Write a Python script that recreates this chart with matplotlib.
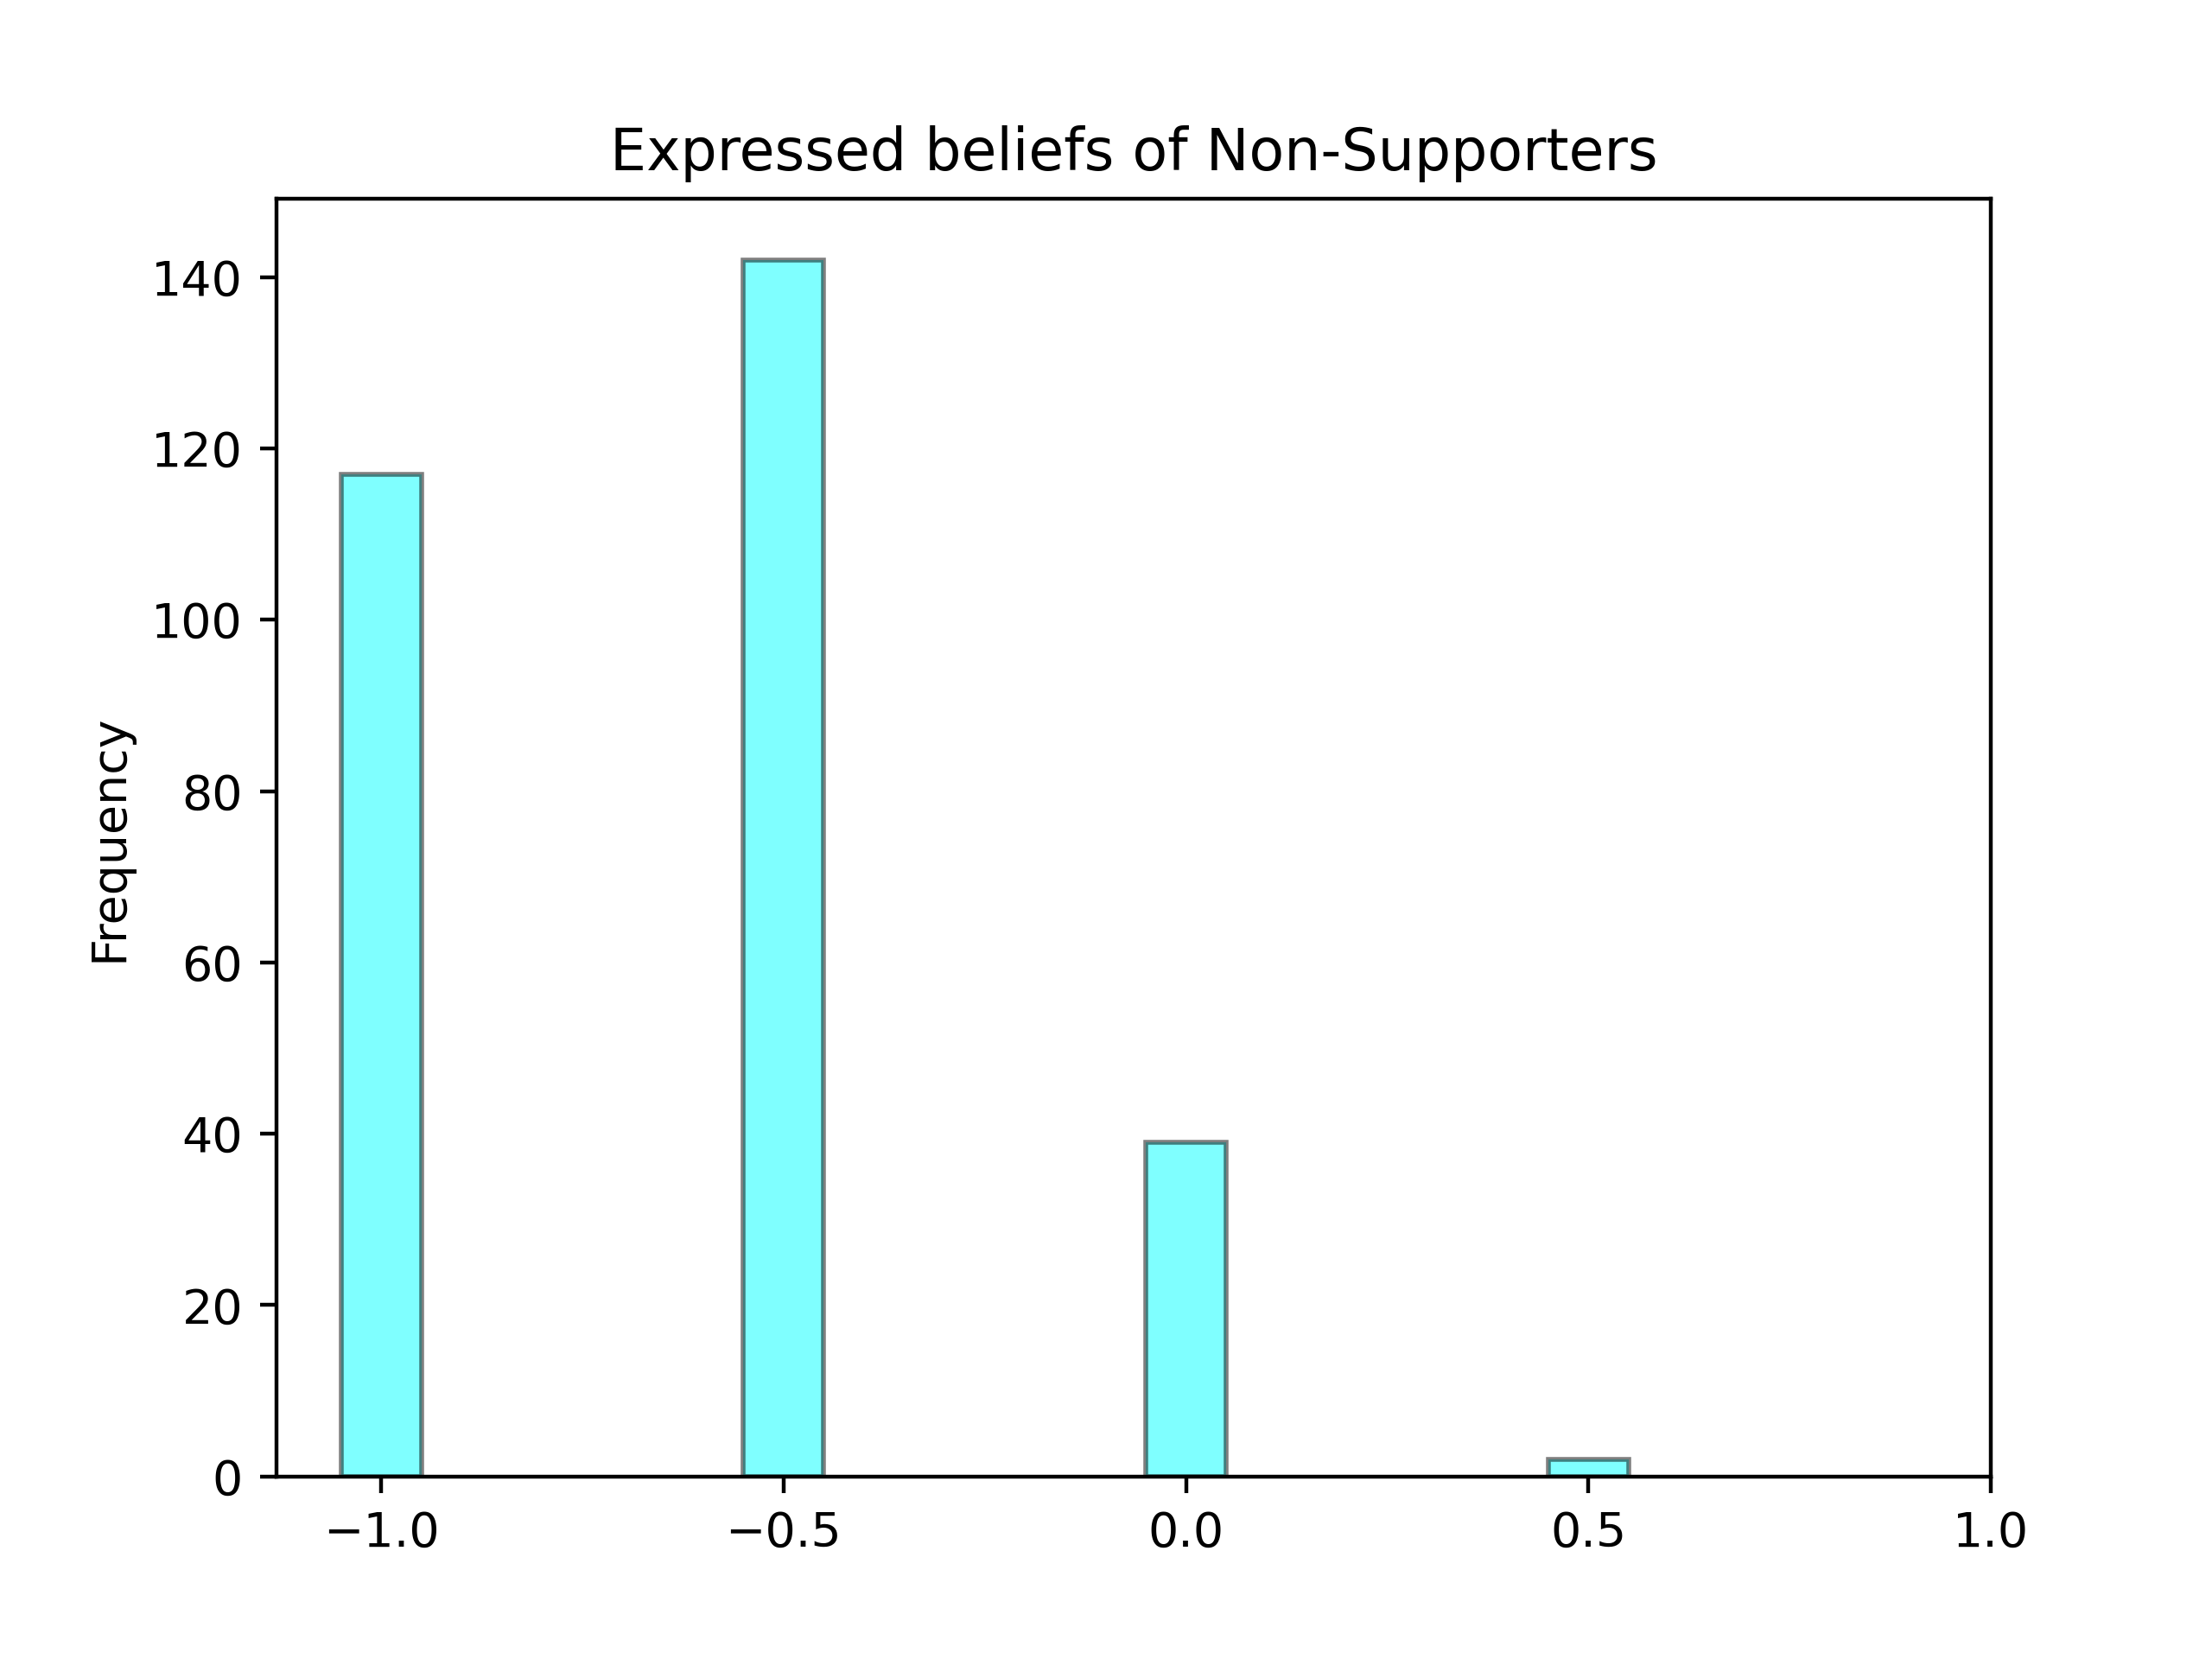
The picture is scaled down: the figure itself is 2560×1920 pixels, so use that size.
import numpy as np
import matplotlib
matplotlib.use('Agg')
import matplotlib.pyplot as plt

# Histogram bins (centres) and counts
bin_centres = [-1.0, -0.5, 0.0, 0.5]
counts = [117, 142, 39, 2]
bin_width = 0.1
x_ticks = [-1.0, -0.5, 0.0, 0.5, 1.0]

fig, ax = plt.subplots(figsize=(6.4, 4.8), dpi=400)

# Each bin is 0.1 wide, drawn as a bar centred on its value
ax.bar(bin_centres, counts, width=bin_width, color='cyan',
       edgecolor='black', alpha=0.5, linewidth=1.0)

ax.set_xlim(-1.13, 1.0)
ax.set_xticks(x_ticks)
ax.set_ylabel('Frequency')
ax.set_title('Expressed beliefs of Non-Supporters')

plt.savefig('out.png', dpi=400)
plt.close()
